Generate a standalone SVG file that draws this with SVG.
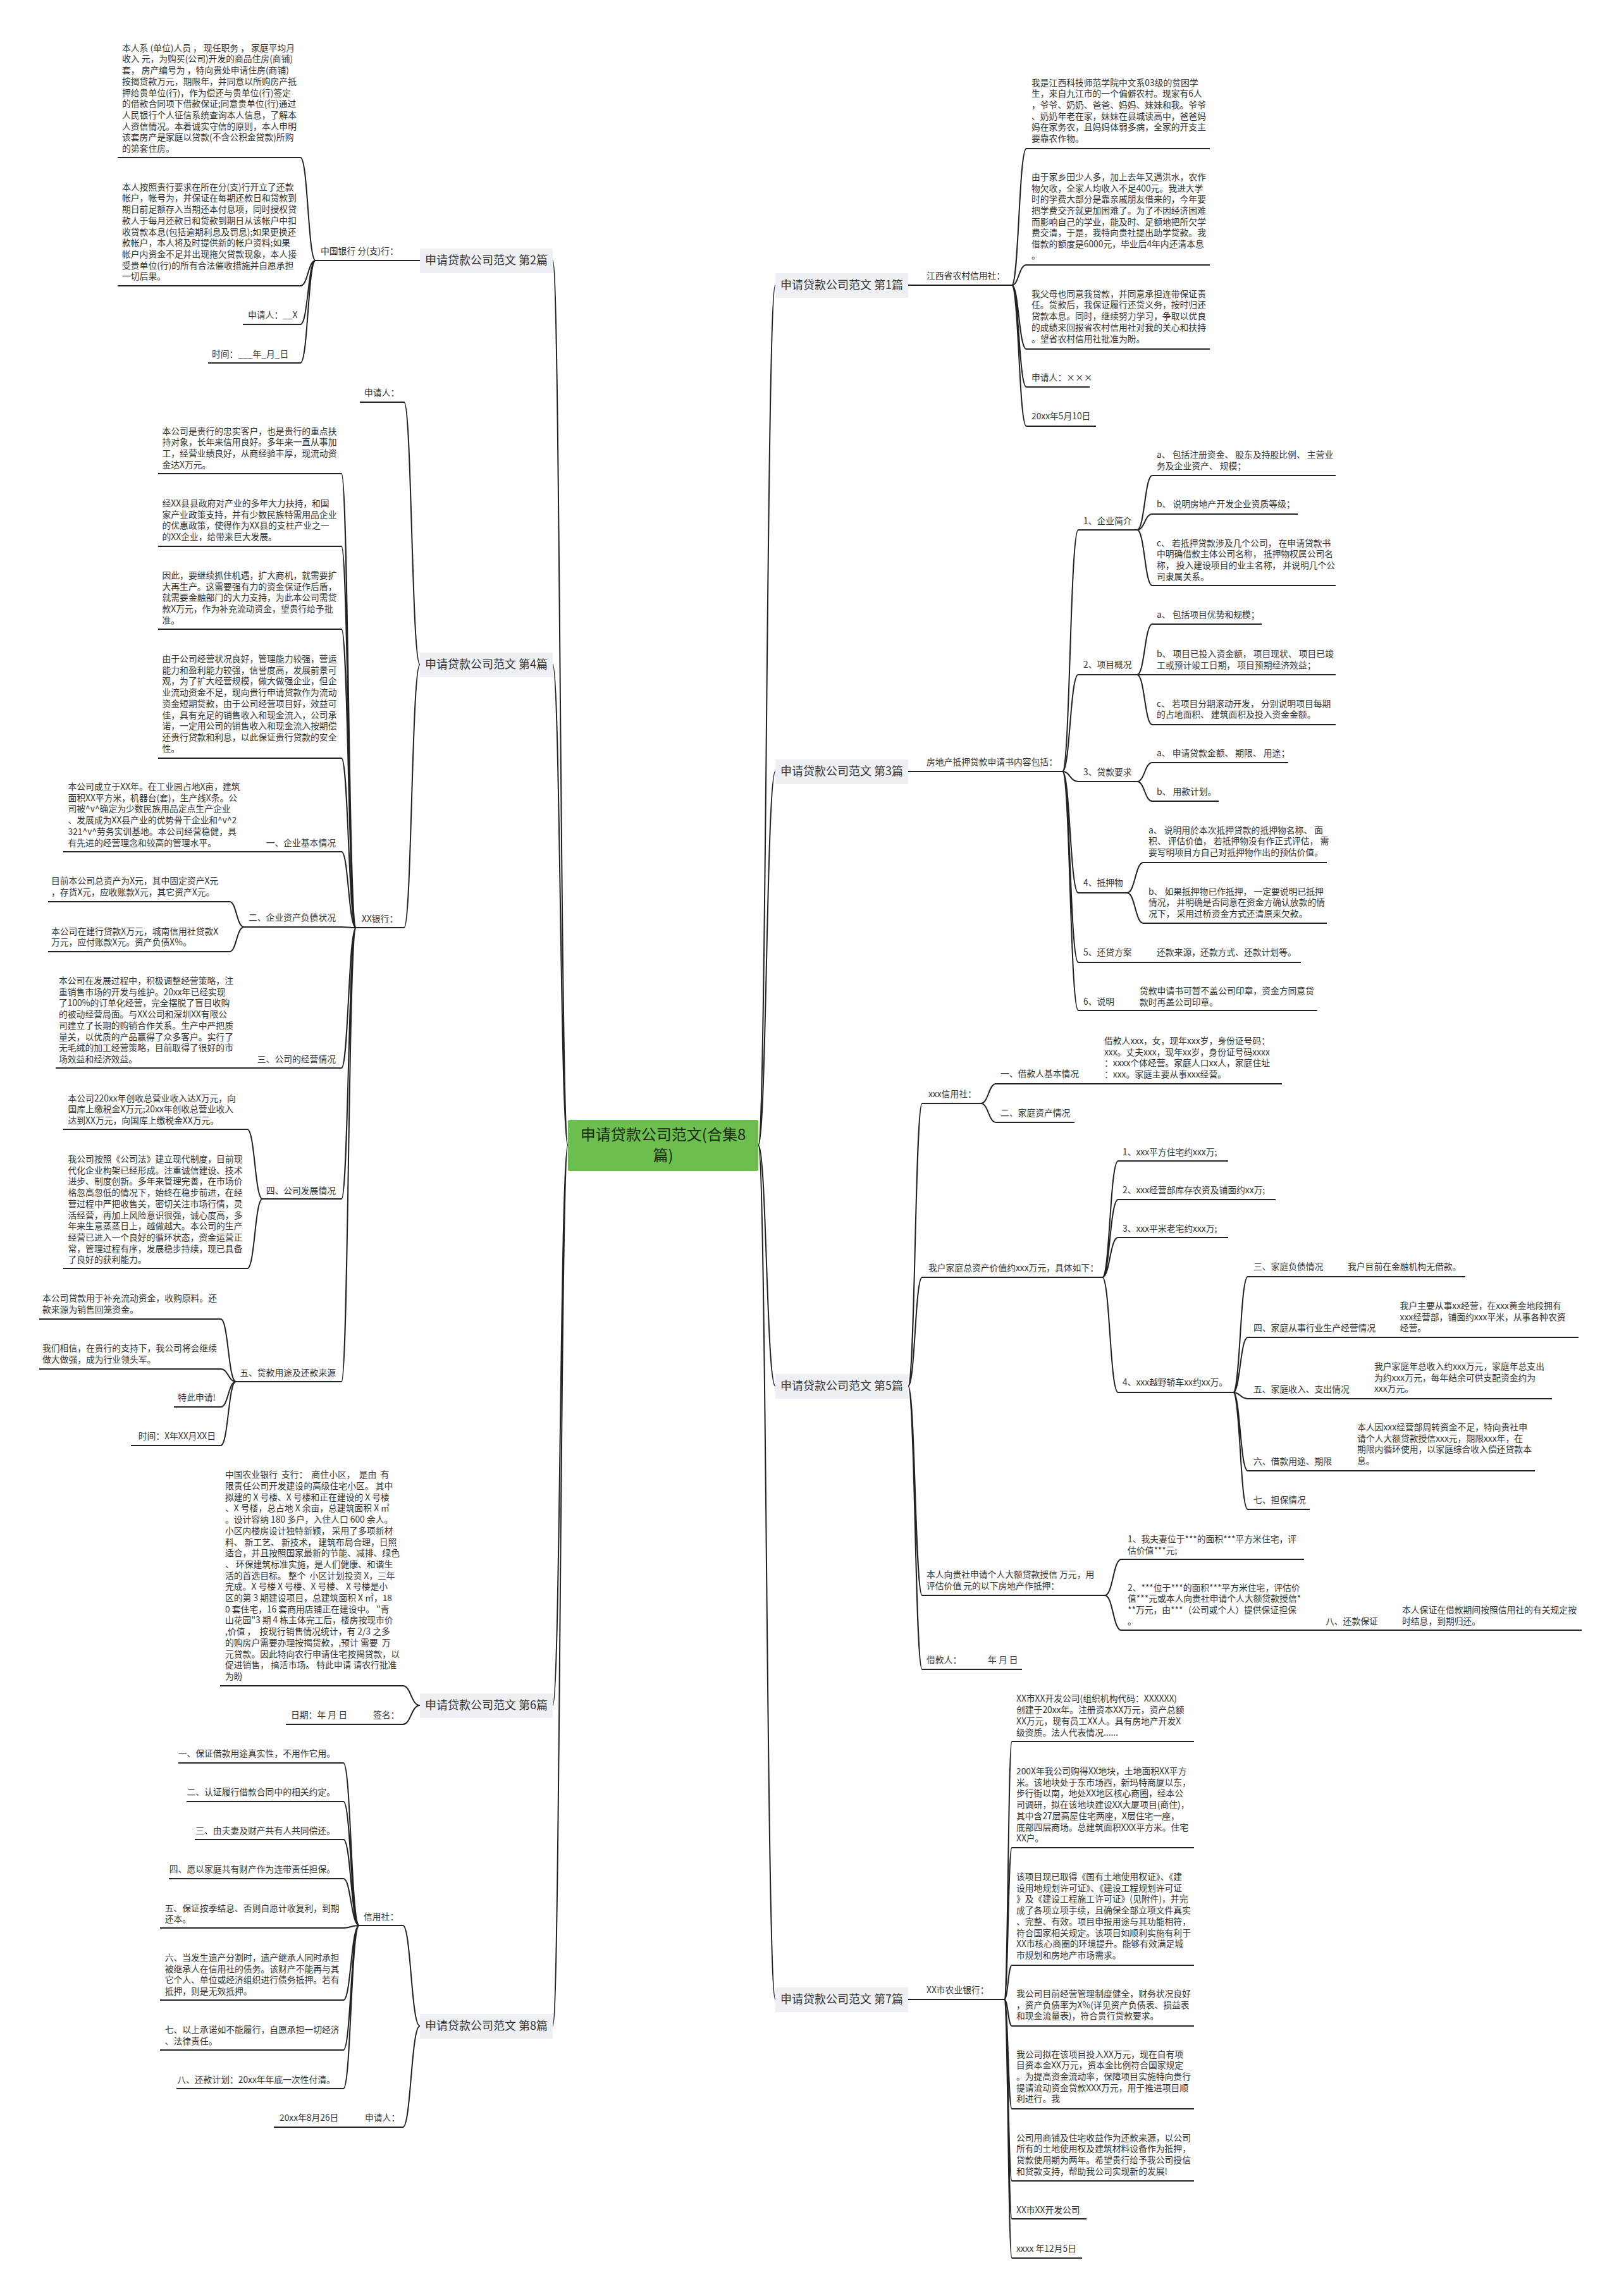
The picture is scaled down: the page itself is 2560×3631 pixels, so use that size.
<svg xmlns="http://www.w3.org/2000/svg" width="2560" height="3631" viewBox="0 0 2560 3631">
<style>
.t{font-family:"Noto Sans CJK SC","Noto Sans",sans-serif;font-size:13.8px;fill:#333;white-space:pre}
.e{text-anchor:end}
.u{stroke:#222;stroke-width:2;fill:none}
.c{stroke:#222;stroke-width:2;fill:none}
.bx{fill:#eef0f3}
.bt{font-family:"Noto Sans CJK SC","Noto Sans",sans-serif;font-size:18px;fill:#333;text-anchor:middle}
.ct{font-family:"Noto Sans CJK SC","Noto Sans",sans-serif;font-size:24px;fill:#1b2a10;text-anchor:middle}
</style>
<rect width="2560" height="3631" fill="#fff"/>
<g id="connectors">
<path class="c" d="M898 1811C886 1811 886 412 874 412M898 1811C886 1811 886 1051 874 1051M898 1811C886 1811 886 2697 874 2697M898 1811C886 1811 886 3204 874 3204"/>
<path class="c" d="M1199 1811C1212 1811 1212 451 1226 451M1199 1811C1212 1811 1212 1220 1226 1220M1199 1811C1212 1811 1212 2192 1226 2192M1199 1811C1212 1811 1212 3162 1226 3162"/>
<path class="c" d="M499 412C487 412 487 249 475 249M499 412C487 412 487 452 475 452M499 412C487 412 487 513 475 513M499 412C487 412 487 574 475 574"/>
<path class="c" d="M664 1051C651 1051 651 636 639 636M664 1051C651 1051 651 1467 639 1467"/>
<path class="c" d="M563 1467C551 1467 551 749 540 749M563 1467C551 1467 551 864 540 864M563 1467C551 1467 551 995 540 995M563 1467C551 1467 551 1199 540 1199M563 1467C551 1467 551 1347 540 1347M563 1467C551 1467 551 1466 540 1466M563 1467C551 1467 551 1689 540 1689M563 1467C551 1467 551 1896 540 1896M563 1467C551 1467 551 2185 540 2185"/>
<path class="c" d="M386 1466C374 1466 374 1426 363 1426M386 1466C374 1466 374 1505 363 1505"/>
<path class="c" d="M415 1896C403 1896 403 1786 391 1786M415 1896C403 1896 403 2006 391 2006"/>
<path class="c" d="M373 2185C361 2185 361 2086 349 2086M373 2185C361 2185 361 2165 349 2165M373 2185C361 2185 361 2225 349 2225M373 2185C361 2185 361 2286 349 2286"/>
<path class="c" d="M664 2697C650 2697 650 2666 637 2666M664 2697C650 2697 650 2727 637 2727"/>
<path class="c" d="M664 3204C650 3204 650 3045 637 3045M664 3204C650 3204 650 3364 637 3364"/>
<path class="c" d="M568 3045C555 3045 555 2788 543 2788M568 3045C555 3045 555 2849 543 2849M568 3045C555 3045 555 2909 543 2909M568 3045C555 3045 555 2971 543 2971M568 3045C555 3045 555 3049 543 3049M568 3045C555 3045 555 3163 543 3163M568 3045C555 3045 555 3242 543 3242M568 3045C555 3045 555 3303 543 3303"/>
<path class="c" d="M1600 451C1611 451 1611 235 1623 235M1600 451C1611 451 1611 419 1623 419M1600 451C1611 451 1611 552 1623 552M1600 451C1611 451 1611 612 1623 612M1600 451C1611 451 1611 674 1623 674"/>
<path class="c" d="M1680 1220C1692 1220 1692 838 1705 838M1680 1220C1692 1220 1692 1067 1705 1067M1680 1220C1692 1220 1692 1236 1705 1236M1680 1220C1692 1220 1692 1412 1705 1412M1680 1220C1692 1220 1692 1522 1705 1522M1680 1220C1692 1220 1692 1598 1705 1598"/>
<path class="c" d="M1798 838C1810 838 1810 752 1822 752M1798 838C1810 838 1810 813 1822 813M1798 838C1810 838 1810 926 1822 926"/>
<path class="c" d="M1798 1067C1810 1067 1810 987 1822 987M1798 1067L1822 1067M1798 1067C1810 1067 1810 1146 1822 1146"/>
<path class="c" d="M1798 1236C1810 1236 1810 1206 1822 1206M1798 1236C1810 1236 1810 1267 1822 1267"/>
<path class="c" d="M1782 1412C1795 1412 1795 1364 1808 1364M1782 1412C1795 1412 1795 1460 1808 1460"/>
<path class="c" d="M1436 2192C1447 2192 1447 1745 1458 1745M1436 2192C1447 2192 1447 2020 1458 2020M1436 2192C1447 2192 1447 2523 1458 2523M1436 2192C1447 2192 1447 2640 1458 2640"/>
<path class="c" d="M1551 1745C1563 1745 1563 1714 1575 1714M1551 1745C1563 1745 1563 1775 1575 1775"/>
<path class="c" d="M1743 2020C1755 2020 1755 1836 1768 1836M1743 2020C1755 2020 1755 1897 1768 1897M1743 2020C1755 2020 1755 1957 1768 1957M1743 2020C1755 2020 1755 2202 1768 2202"/>
<path class="c" d="M1950 2202C1961 2202 1961 2019 1973 2019M1950 2202C1961 2202 1961 2115 1973 2115M1950 2202C1961 2202 1961 2212 1973 2212M1950 2202C1961 2202 1961 2326 1973 2326M1950 2202C1961 2202 1961 2387 1973 2387"/>
<path class="c" d="M1747 2523C1760 2523 1760 2466 1773 2466M1747 2523C1760 2523 1760 2578 1773 2578"/>
<path class="c" d="M1588 3162C1594 3162 1594 2754 1600 2754M1588 3162C1594 3162 1594 2922 1600 2922M1588 3162C1594 3162 1594 3108 1600 3108M1588 3162C1594 3162 1594 3204 1600 3204M1588 3162C1594 3162 1594 3335 1600 3335M1588 3162C1594 3162 1594 3449 1600 3449M1588 3162C1594 3162 1594 3509 1600 3509M1588 3162C1594 3162 1594 3571 1600 3571"/>
</g>
<g id="center"><rect x="898" y="1771" width="301" height="81" rx="3" fill="#6cbf4f"/><text class="ct" x="1048.5" y="1803">申请贷款公司范文(合集8</text><text class="ct" x="1048.5" y="1836">篇)</text></g>
<g id="p2"><rect class="bx" x="664" y="393" width="210" height="39"/><text class="bt" x="769" y="418">申请贷款公司范文 第2篇</text></g>
<g id="p4"><rect class="bx" x="664" y="1032" width="210" height="39"/><text class="bt" x="769" y="1057">申请贷款公司范文 第4篇</text></g>
<g id="p6"><rect class="bx" x="664" y="2678" width="210" height="39"/><text class="bt" x="769" y="2703">申请贷款公司范文 第6篇</text></g>
<g id="p8"><rect class="bx" x="664" y="3185" width="210" height="39"/><text class="bt" x="769" y="3210">申请贷款公司范文 第8篇</text></g>
<g id="p1"><rect class="bx" x="1226" y="432" width="210" height="39"/><text class="bt" x="1331" y="457">申请贷款公司范文 第1篇</text></g>
<g id="p3"><rect class="bx" x="1226" y="1201" width="210" height="39"/><text class="bt" x="1331" y="1226">申请贷款公司范文 第3篇</text></g>
<g id="p5"><rect class="bx" x="1226" y="2173" width="210" height="39"/><text class="bt" x="1331" y="2198">申请贷款公司范文 第5篇</text></g>
<g id="p7"><rect class="bx" x="1226" y="3143" width="210" height="39"/><text class="bt" x="1331" y="3168">申请贷款公司范文 第7篇</text></g>

<g id="n2-label"><text class="t" x="507" y="402">中国银行 分(支)行：</text><path class="u" d="M499 412H664"/></g>
<g id="n2-b1"><text class="t" x="193" y="80.7">本人系 (单位)人员 ， 现任职务 ， 家庭平均月<tspan x="193" dy="17.7">收入 元，为购买(公司)开发的商品住房(商铺)</tspan><tspan x="193" dy="17.7">套， 房产编号为 ，特向贵处申请住房(商铺)</tspan><tspan x="193" dy="17.7">按揭贷款万元，期限年，并同意以所购房产抵</tspan><tspan x="193" dy="17.7">押给贵单位(行)，作为偿还与贵单位(行)签定</tspan><tspan x="193" dy="17.7">的借款合同项下借款保证;同意贵单位(行)通过</tspan><tspan x="193" dy="17.7">人民银行个人征信系统查询本人信息，了解本</tspan><tspan x="193" dy="17.7">人资信情况。本着诚实守信的原则，本人申明</tspan><tspan x="193" dy="17.7">该套房产是家庭以贷款(不含公积金贷款)所购</tspan><tspan x="193" dy="17.7">的第套住房。</tspan></text><path class="u" d="M186 249H475"/></g>
<g id="n2-b2"><text class="t" x="193" y="300.7">本人按照贵行要求在所在分(支)行开立了还款<tspan x="193" dy="17.7">帐户，帐号为，并保证在每期还款日和贷款到</tspan><tspan x="193" dy="17.7">期日前足额存入当期还本付息项，同时授权贷</tspan><tspan x="193" dy="17.7">款人于每月还款日和贷款到期日从该帐户中扣</tspan><tspan x="193" dy="17.7">收贷款本息(包括逾期利息及罚息);如果更换还</tspan><tspan x="193" dy="17.7">款帐户，本人将及时提供新的帐户资料;如果</tspan><tspan x="193" dy="17.7">帐户内资金不足并出现拖欠贷款现象，本人接</tspan><tspan x="193" dy="17.7">受贵单位(行)的所有合法催收措施并自愿承担</tspan><tspan x="193" dy="17.7">一切后果。</tspan></text><path class="u" d="M186 452H475"/></g>
<g id="n2-sq"><text class="t" x="392" y="503">申请人：__X</text><path class="u" d="M384 513H475"/></g>
<g id="n2-time"><text class="t" x="335" y="565">时间：___年_月_日</text><path class="u" d="M329 574H475"/></g>

<g id="n4-sq"><text class="t" x="576" y="626">申请人：</text><path class="u" d="M569 636H639"/></g>
<g id="n4-bank"><text class="t" x="572" y="1458">XX银行：</text><path class="u" d="M563 1467H639"/></g>
<g id="n4-p1"><text class="t" x="256.5" y="686.5">本公司是贵行的忠实客户，也是贵行的重点扶<tspan x="256.5" dy="17.7">持对象，长年来信用良好。多年来一直从事加</tspan><tspan x="256.5" dy="17.7">工，经营业绩良好，从商经验丰厚，现流动资</tspan><tspan x="256.5" dy="17.7">金达X万元。</tspan></text><path class="u" d="M250 749H540"/></g>
<g id="n4-p2"><text class="t" x="256.5" y="801">经XX县县政府对产业的多年大力扶持，和国<tspan x="256.5" dy="17.7">家产业政策支持，并有少数民族特需用品企业</tspan><tspan x="256.5" dy="17.7">的优惠政策，使得作为XX县的支柱产业之一</tspan><tspan x="256.5" dy="17.7">的XX企业，给带来巨大发展。</tspan></text><path class="u" d="M250 864H540"/></g>
<g id="n4-p3"><text class="t" x="256.5" y="915">因此，要继续抓住机遇，扩大商机，就需要扩<tspan x="256.5" dy="17.7">大再生产。这需要强有力的资金保证作后盾，</tspan><tspan x="256.5" dy="17.7">就需要金融部门的大力支持，为此本公司需贷</tspan><tspan x="256.5" dy="17.7">款X万元，作为补充流动资金，望贵行给予批</tspan><tspan x="256.5" dy="17.7">准。</tspan></text><path class="u" d="M250 995H540"/></g>
<g id="n4-p4"><text class="t" x="256.5" y="1047">由于公司经营状况良好，管理能力较强，营运<tspan x="256.5" dy="17.7">能力和盈利能力较强，信誉度高，发展前景可</tspan><tspan x="256.5" dy="17.7">观，为了扩大经营规模，做大做强企业，但企</tspan><tspan x="256.5" dy="17.7">业流动资金不足，现向贵行申请贷款作为流动</tspan><tspan x="256.5" dy="17.7">资金短期贷款，由于公司经营项目好，效益可</tspan><tspan x="256.5" dy="17.7">佳，具有充足的销售收入和现金流入，公司承</tspan><tspan x="256.5" dy="17.7">诺，一定用公司的销售收入和现金流入按期偿</tspan><tspan x="256.5" dy="17.7">还贵行贷款和利息，以此保证贵行贷款的安全</tspan><tspan x="256.5" dy="17.7">性。</tspan></text><path class="u" d="M250 1199H540"/></g>
<g id="n4-s1"><text class="t e" x="531" y="1338">一、企业基本情况</text><path class="u" d="M415 1347H540"/></g>
<g id="n4-s1a"><text class="t" x="107.5" y="1249">本公司成立于XX年。在工业园占地X亩，建筑<tspan x="107.5" dy="17.7">面积XX平方米，机器台(套)，生产线X条。公</tspan><tspan x="107.5" dy="17.7">司被^v^确定为少数民族用品定点生产企业</tspan><tspan x="107.5" dy="17.7">、发展成为XX县产业的优势骨干企业和^v^2</tspan><tspan x="107.5" dy="17.7">321^v^劳务实训基地。本公司经营稳健，具</tspan><tspan x="107.5" dy="17.7">有先进的经营理念和较高的管理水平。</tspan></text><path class="u" d="M100 1347H415"/></g>
<g id="n4-s2"><text class="t e" x="531" y="1456">二、企业资产负债状况</text><path class="u" d="M386 1466H540"/></g>
<g id="n4-s2a"><text class="t" x="81" y="1398">目前本公司总资产为X元，其中固定资产X元<tspan x="81" dy="17.7">，存货X元，应收账款X元，其它资产X元。</tspan></text><path class="u" d="M76 1426H363"/></g>
<g id="n4-s2b"><text class="t" x="81" y="1477.5">本公司在建行贷款X万元，城南信用社贷款X<tspan x="81" dy="17.7">万元，应付账款X元。资产负债X%。</tspan></text><path class="u" d="M76 1505H363"/></g>
<g id="n4-s3"><text class="t e" x="531" y="1679.6">三、公司的经营情况</text><path class="u" d="M400 1689H540"/></g>
<g id="n4-s3a"><text class="t" x="93" y="1556">本公司在发展过程中，积极调整经营策略，注<tspan x="93" dy="17.7">重销售市场的开发与维护。20xx年已经实现</tspan><tspan x="93" dy="17.7">了100%的订单化经营，完全摆脱了盲目收购</tspan><tspan x="93" dy="17.7">的被动经营局面。与XX公司和深圳XX有限公</tspan><tspan x="93" dy="17.7">司建立了长期的购销合作关系。生产中严把质</tspan><tspan x="93" dy="17.7">量关，以优质的产品赢得了众多客户。实行了</tspan><tspan x="93" dy="17.7">无毛绒的加工经营策略，目前取得了很好的市</tspan><tspan x="93" dy="17.7">场效益和经济效益。</tspan></text><path class="u" d="M88 1689H400"/></g>
<g id="n4-s4"><text class="t e" x="531" y="1887.5">四、公司发展情况</text><path class="u" d="M415 1896H540"/></g>
<g id="n4-s4a"><text class="t" x="107.5" y="1741.5">本公司220xx年创收总营业收入达X万元，向<tspan x="107.5" dy="17.7">国库上缴税金X万元;20xx年创收总营业收入</tspan><tspan x="107.5" dy="17.7">达到XX万元，向国库上缴税金XX万元。</tspan></text><path class="u" d="M100 1786H391"/></g>
<g id="n4-s4b"><text class="t" x="107.5" y="1838">我公司按照《公司法》建立现代制度，目前现<tspan x="107.5" dy="17.7">代化企业构架已经形成。注重诚信建设、技术</tspan><tspan x="107.5" dy="17.7">进步、制度创新。多年来管理完善，在市场价</tspan><tspan x="107.5" dy="17.7">格忽高忽低的情况下，始终在稳步前进，在经</tspan><tspan x="107.5" dy="17.7">营过程中严把收售关，密切关注市场行情，灵</tspan><tspan x="107.5" dy="17.7">活经营，再加上风险意识很强，诚心度高，多</tspan><tspan x="107.5" dy="17.7">年来生意蒸蒸日上，越做越大。本公司的生产</tspan><tspan x="107.5" dy="17.7">经营已进入一个良好的循环状态，资金运营正</tspan><tspan x="107.5" dy="17.7">常，管理过程有序，发展稳步持续，现已具备</tspan><tspan x="107.5" dy="17.7">了良好的获利能力。</tspan></text><path class="u" d="M100 2006H391"/></g>
<g id="n4-s5"><text class="t e" x="531" y="2176">五、贷款用途及还款来源</text><path class="u" d="M373 2185H540"/></g>
<g id="n4-s5a"><text class="t" x="67" y="2058">本公司贷款用于补充流动资金，收购原料。还<tspan x="67" dy="17.7">款来源为销售回笼资金。</tspan></text><path class="u" d="M62 2086H349"/></g>
<g id="n4-s5b"><text class="t" x="67" y="2137">我们相信，在贵行的支持下，我公司将会继续<tspan x="67" dy="17.7">做大做强，成为行业领头军。</tspan></text><path class="u" d="M62 2165H349"/></g>
<g id="n4-s5c"><text class="t e" x="341" y="2215">特此申请!</text><path class="u" d="M275 2225H349"/></g>
<g id="n4-s5d"><text class="t e" x="341" y="2276">时间：X年XX月XX日</text><path class="u" d="M207 2286H349"/></g>

<g id="n6-p"><text class="t" x="356" y="2337.3">中国农业银行  支行：  商住小区，  是由  有<tspan x="356" dy="17.7">限责任公司开发建设的高级住宅小区。 其中</tspan><tspan x="356" dy="17.7">拟建的 X 号楼、X 号楼和正在建设的 X 号楼</tspan><tspan x="356" dy="17.7">、X 号楼，总占地 X 余亩，总建筑面积 X ㎡</tspan><tspan x="356" dy="17.7">。设计容纳 180 多户，入住人口 600 余人。</tspan><tspan x="356" dy="17.7">小区内楼房设计独特新颖， 采用了多项新材</tspan><tspan x="356" dy="17.7">料、 新工艺、 新技术， 建筑布局合理，日照</tspan><tspan x="356" dy="17.7">适合，并且按照国家最新的节能、减排、绿色</tspan><tspan x="356" dy="17.7">、 环保建筑标准实施，是人们健康、和谐生</tspan><tspan x="356" dy="17.7">活的首选目标。 整个  小区计划投资 X，三年</tspan><tspan x="356" dy="17.7">完成。X 号楼 X 号楼、X 号楼、 X 号楼是小</tspan><tspan x="356" dy="17.7">区的第 3 期建设项目，总建筑面积 X ㎡，18</tspan><tspan x="356" dy="17.7">0 套住宅，16 套商用店铺正在建设中。 "青</tspan><tspan x="356" dy="17.7">山花园"3 期 4 栋主体完工后，楼房按现市价</tspan><tspan x="356" dy="17.7">,价值 ，  按现行销售情况统计，有 2/3 之多</tspan><tspan x="356" dy="17.7">的购房户需要办理按揭贷款，,预计 需要  万</tspan><tspan x="356" dy="17.7">元贷款。因此特向农行申请住宅按揭贷款，以</tspan><tspan x="356" dy="17.7">促进销售， 搞活市场。 特此申请 请农行批准</tspan><tspan x="356" dy="17.7">为盼</tspan></text><path class="u" d="M348 2666H637"/></g>
<g id="n6-date"><text class="t" x="460" y="2717">日期：年 月 日<tspan x="590">签名：</tspan></text><path class="u" d="M452 2727H637"/></g>

<g id="n8-xys"><text class="t" x="575" y="3035.6">信用社：</text><path class="u" d="M568 3045H637"/></g>
<g id="n8-sq"><text class="t" x="577" y="3354">申请人：</text><path class="u" d="M570 3364H638"/></g>
<g id="n8-date"><text class="t" x="442" y="3354">20xx年8月26日</text><path class="u" d="M433 3364H570"/></g>
<g id="n8-1"><text class="t e" x="530" y="2777.7">一、保证借款用途真实性，不用作它用。</text><path class="u" d="M282 2788H543"/></g>
<g id="n8-2"><text class="t e" x="530" y="2839">二、认证履行借款合同中的相关约定。</text><path class="u" d="M295 2849H543"/></g>
<g id="n8-3"><text class="t e" x="530" y="2900">三、由夫妻及财产共有人共同偿还。</text><path class="u" d="M308 2909H543"/></g>
<g id="n8-4"><text class="t e" x="530" y="2961">四、愿以家庭共有财产作为连带责任担保。</text><path class="u" d="M267 2971H543"/></g>
<g id="n8-5"><text class="t" x="260.7" y="3022.6">五、保证按季结息、否则自愿计收复利，到期<tspan x="260.7" dy="17.7">还本。</tspan></text><path class="u" d="M253 3049H543"/></g>
<g id="n8-6"><text class="t" x="260.7" y="3101">六、当发生遗产分割时，遗产继承人同时承担<tspan x="260.7" dy="17.7">被继承人在信用社的债务。该财产不能再与其</tspan><tspan x="260.7" dy="17.7">它个人、单位或经济组织进行债务抵押。若有</tspan><tspan x="260.7" dy="17.7">抵押，则是无效抵押。</tspan></text><path class="u" d="M253 3163H543"/></g>
<g id="n8-7"><text class="t" x="260.7" y="3215">七、以上承诺如不能履行，自愿承担一切经济<tspan x="260.7" dy="17.7">、法律责任。</tspan></text><path class="u" d="M253 3242H543"/></g>
<g id="n8-8"><text class="t e" x="530" y="3294">八、还款计划：20xx年年底一次性付清。</text><path class="u" d="M279 3303H543"/></g>

<g id="n1-label"><text class="t" x="1465" y="441">江西省农村信用社：</text><path class="u" d="M1436 451H1600"/></g>
<g id="n1-b1"><text class="t" x="1631" y="135.6">我是江西科技师范学院中文系03级的贫困学<tspan x="1631" dy="17.7">生，来自九江市的一个偏僻农村。现家有6人</tspan><tspan x="1631" dy="17.7">，爷爷、奶奶、爸爸、妈妈、妹妹和我。爷爷</tspan><tspan x="1631" dy="17.7">、奶奶年老在家，妹妹在县城读高中，爸爸妈</tspan><tspan x="1631" dy="17.7">妈在家务农，且妈妈体弱多病，全家的开支主</tspan><tspan x="1631" dy="17.7">要靠农作物。</tspan></text><path class="u" d="M1623 235H1913"/></g>
<g id="n1-b2"><text class="t" x="1631" y="284.9">由于家乡田少人多，加上去年又遇洪水，农作<tspan x="1631" dy="17.7">物欠收，全家人均收入不足400元。我进大学</tspan><tspan x="1631" dy="17.7">时的学费大部分是靠亲戚朋友借来的，今年要</tspan><tspan x="1631" dy="17.7">把学费交齐就更加困难了。为了不因经济困难</tspan><tspan x="1631" dy="17.7">而影响自己的学业，能及时、足额地把所欠学</tspan><tspan x="1631" dy="17.7">费交清，于是，我特向贵社提出助学贷款。我</tspan><tspan x="1631" dy="17.7">借款的额度是6000元，毕业后4年内还清本息</tspan><tspan x="1631" dy="17.7">。</tspan></text><path class="u" d="M1623 419H1913"/></g>
<g id="n1-b3"><text class="t" x="1631" y="469.7">我父母也同意我贷款，并同意承担连带保证责<tspan x="1631" dy="17.7">任。贷款后，我保证履行还贷义务，按时归还</tspan><tspan x="1631" dy="17.7">贷款本息。同时，继续努力学习，争取以优良</tspan><tspan x="1631" dy="17.7">的成绩来回报省农村信用社对我的关心和扶持</tspan><tspan x="1631" dy="17.7">。望省农村信用社批准为盼。</tspan></text><path class="u" d="M1623 552H1913"/></g>
<g id="n1-sq"><text class="t" x="1631" y="601.7">申请人：×××</text><path class="u" d="M1623 612H1723"/></g>
<g id="n1-date"><text class="t" x="1631" y="663">20xx年5月10日</text><path class="u" d="M1623 674H1733"/></g>

<g id="n3-label"><text class="t" x="1465" y="1210">房地产抵押贷款申请书内容包括：</text><path class="u" d="M1436 1220H1680"/></g>
<g id="n3-1"><text class="t" x="1713" y="829">1、企业简介</text><path class="u" d="M1705 838H1798"/></g>
<g id="n3-1a"><text class="t" x="1829" y="724">a、 包括注册资金、 股东及持股比例、 主营业<tspan x="1829" dy="17.7">务及企业资产、 规模；</tspan></text><path class="u" d="M1822 752H2112"/></g>
<g id="n3-1b"><text class="t" x="1829" y="802">b、 说明房地产开发企业资质等级；</text><path class="u" d="M1822 813H2052"/></g>
<g id="n3-1c"><text class="t" x="1829" y="863.6">c、 若抵押贷款涉及几个公司， 在申请贷款书<tspan x="1829" dy="17.7">中明确借款主体公司名称， 抵押物权属公司名</tspan><tspan x="1829" dy="17.7">称， 投入建设项目的业主名称， 并说明几个公</tspan><tspan x="1829" dy="17.7">司隶属关系。</tspan></text><path class="u" d="M1822 926H2112"/></g>
<g id="n3-2"><text class="t" x="1713" y="1056">2、项目概况</text><path class="u" d="M1705 1067H1798"/></g>
<g id="n3-2a"><text class="t" x="1829" y="977">a、 包括项目优势和规模；</text><path class="u" d="M1822 987H1995"/></g>
<g id="n3-2b"><text class="t" x="1829" y="1039">b、 项目已投入资金额， 项目现状、 项目已竣<tspan x="1829" dy="17.7">工或预计竣工日期， 项目预期经济效益；</tspan></text><path class="u" d="M1822 1067H2112"/></g>
<g id="n3-2c"><text class="t" x="1829" y="1117.5">c、 若项目分期滚动开发， 分别说明项目每期<tspan x="1829" dy="17.7">的占地面积、 建筑面积及投入资金金额。</tspan></text><path class="u" d="M1822 1146H2112"/></g>
<g id="n3-3"><text class="t" x="1713" y="1226">3、贷款要求</text><path class="u" d="M1705 1236H1798"/></g>
<g id="n3-3a"><text class="t" x="1829" y="1195.6">a、 申请贷款金额、 期限、 用途；</text><path class="u" d="M1822 1206H2037"/></g>
<g id="n3-3b"><text class="t" x="1829" y="1257">b、 用款计划。</text><path class="u" d="M1822 1267H1927"/></g>
<g id="n3-4"><text class="t" x="1713" y="1401">4、抵押物</text><path class="u" d="M1705 1412H1782"/></g>
<g id="n3-4a"><text class="t" x="1816" y="1317.6">a、 说明用於本次抵押贷款的抵押物名称、 面<tspan x="1816" dy="17.7">积、 评估价值， 若抵押物没有作正式评估， 需</tspan><tspan x="1816" dy="17.7">要写明项目方自己对抵押物作出的预估价值。</tspan></text><path class="u" d="M1808 1364H2098"/></g>
<g id="n3-4b"><text class="t" x="1816" y="1414.5">b、 如果抵押物已作抵押， 一定要说明已抵押<tspan x="1816" dy="17.7">情况， 并明确是否同意在资金方确认放款的情</tspan><tspan x="1816" dy="17.7">况下， 采用过桥资金方式还清原来欠款。</tspan></text><path class="u" d="M1808 1460H2098"/></g>
<g id="n3-5"><text class="t" x="1713" y="1511">5、还贷方案</text><path class="u" d="M1705 1522H1822"/></g>
<g id="n3-5a"><text class="t" x="1829" y="1511">还款来源，还款方式、还款计划等。</text><path class="u" d="M1822 1522H2057"/></g>
<g id="n3-6"><text class="t" x="1713" y="1589">6、说明</text><path class="u" d="M1705 1598H1795"/></g>
<g id="n3-6a"><text class="t" x="1802" y="1572">贷款申请书可暂不盖公司印章，资金方同意贷<tspan x="1802" dy="17.7">款时再盖公司印章。</tspan></text><path class="u" d="M1795 1598H2083"/></g>

<g id="n5-xys"><text class="t" x="1468" y="1735">xxx信用社：</text><path class="u" d="M1458 1745H1551"/></g>
<g id="n5-1"><text class="t" x="1582" y="1703.4">一、借款人基本情况</text><path class="u" d="M1575 1714H1740"/></g>
<g id="n5-1a"><text class="t" x="1746" y="1651">借款人xxx，女，现年xxx岁，身份证号码：<tspan x="1746" dy="17.7">xxx。丈夫xxx，现年xx岁，身份证号码xxxx</tspan><tspan x="1746" dy="17.7">：xxxx个体经营。家庭人口xx人，家庭住址</tspan><tspan x="1746" dy="17.7">：xxx。家庭主要从事xxx经营。</tspan></text><path class="u" d="M1740 1714H2027"/></g>
<g id="n5-2"><text class="t" x="1582" y="1765">二、家庭资产情况</text><path class="u" d="M1575 1775H1699"/></g>
<g id="n5-zc"><text class="t" x="1468" y="2010">我户家庭总资产价值约xxx万元，具体如下：</text><path class="u" d="M1458 2020H1743"/></g>
<g id="n5-zc1"><text class="t" x="1775" y="1826.6">1、xxx平方住宅约xxx万;</text><path class="u" d="M1768 1836H1942"/></g>
<g id="n5-zc2"><text class="t" x="1775" y="1887">2、xxx经营部库存农资及铺面约xx万;</text><path class="u" d="M1768 1897H2017"/></g>
<g id="n5-zc3"><text class="t" x="1775" y="1947.6">3、xxx平米老宅约xxx万;</text><path class="u" d="M1768 1957H1942"/></g>
<g id="n5-zc4"><text class="t" x="1775" y="2191">4、xxx越野轿车xx约xx万。</text><path class="u" d="M1768 2202H1950"/></g>
<g id="n5-3"><text class="t" x="1982" y="2008">三、家庭负债情况</text><path class="u" d="M1973 2019H2120"/></g>
<g id="n5-3a"><text class="t" x="2131" y="2008">我户目前在金融机构无借款。</text><path class="u" d="M2120 2019H2317"/></g>
<g id="n5-4"><text class="t" x="1982" y="2105">四、家庭从事行业生产经营情况</text><path class="u" d="M1973 2115H2205"/></g>
<g id="n5-4a"><text class="t" x="2213.6" y="2070">我户主要从事xx经营，在xxx黄金地段拥有<tspan x="2213.6" dy="17.7">xxx经营部，铺面约xxx平米，从事各种农资</tspan><tspan x="2213.6" dy="17.7">经营。</tspan></text><path class="u" d="M2205 2115H2496"/></g>
<g id="n5-5"><text class="t" x="1982" y="2201.7">五、家庭收入、支出情况</text><path class="u" d="M1973 2212H2165"/></g>
<g id="n5-5a"><text class="t" x="2173" y="2166">我户家庭年总收入约xxx万元，家庭年总支出<tspan x="2173" dy="17.7">为约xxx万元，每年结余可供支配资金约为</tspan><tspan x="2173" dy="17.7">xxx万元。</tspan></text><path class="u" d="M2165 2212H2454"/></g>
<g id="n5-6"><text class="t" x="1982" y="2315.7">六、借款用途、期限</text><path class="u" d="M1973 2326H2138"/></g>
<g id="n5-6a"><text class="t" x="2146" y="2262">本人因xxx经营部周转资金不足，特向贵社申<tspan x="2146" dy="17.7">请个人大额贷款授信xxx元，期限xxx年，在</tspan><tspan x="2146" dy="17.7">期限内循环使用，以家庭综合收入偿还贷款本</tspan><tspan x="2146" dy="17.7">息。</tspan></text><path class="u" d="M2138 2326H2427"/></g>
<g id="n5-7"><text class="t" x="1982" y="2377">七、担保情况</text><path class="u" d="M1973 2387H2071"/></g>
<g id="n5-dy"><text class="t" x="1465" y="2495">本人向贵社申请个人大额贷款授信 万元，用<tspan x="1465" dy="17.7">评估价值 元的以下房地产作抵押：</tspan></text><path class="u" d="M1458 2523H1747"/></g>
<g id="n5-dy1"><text class="t" x="1783" y="2439">1、我夫妻位于***的面积***平方米住宅，评<tspan x="1783" dy="17.7">估价值***元;</tspan></text><path class="u" d="M1773 2466H2062"/></g>
<g id="n5-dy2"><text class="t" x="1783" y="2515.5">2、***位于***的面积***平方米住宅，评估价<tspan x="1783" dy="17.7">值***元或本人向贵社申请个人大额贷款授信*</tspan><tspan x="1783" dy="17.7">**万元，由***（公司或个人）提供保证担保</tspan><tspan x="1783" dy="17.7">。</tspan></text><path class="u" d="M1773 2578H2086"/></g>
<g id="n5-8"><text class="t" x="2096" y="2568.6">八、还款保证</text><path class="u" d="M2086 2578H2210"/></g>
<g id="n5-8a"><text class="t" x="2217" y="2550.9">本人保证在借款期间按照信用社的有关规定按<tspan x="2217" dy="17.7">时结息，到期归还。</tspan></text><path class="u" d="M2210 2578H2501"/></g>
<g id="n5-jkr"><text class="t" x="1465" y="2630">借款人：<tspan x="1562">年 月 日</tspan></text><path class="u" d="M1458 2640H1616"/></g>

<g id="n7-label"><text class="t" x="1465" y="3152">XX市农业银行：</text><path class="u" d="M1436 3162H1588"/></g>
<g id="n7-b1"><text class="t" x="1607" y="2691.4">XX市XX开发公司(组织机构代码：XXXXXX)<tspan x="1607" dy="17.7">创建于20xx年。注册资本XX万元，资产总额</tspan><tspan x="1607" dy="17.7">XX万元，现有员工XX人。具有房地产开发X</tspan><tspan x="1607" dy="17.7">级资质。法人代表情况......</tspan></text><path class="u" d="M1600 2754H1888"/></g>
<g id="n7-b2"><text class="t" x="1607" y="2806">200X年我公司购得XX地块，土地面积XX平方<tspan x="1607" dy="17.7">米。该地块处于东市场西，新玛特商厦以东，</tspan><tspan x="1607" dy="17.7">步行街以南，地处XX地区核心商圈，经本公</tspan><tspan x="1607" dy="17.7">司调研，拟在该地块建设XX大厦项目(商住)，</tspan><tspan x="1607" dy="17.7">其中含27层高屋住宅两座，X层住宅一座，</tspan><tspan x="1607" dy="17.7">底部四层商场。总建筑面积XXX平方米。住宅</tspan><tspan x="1607" dy="17.7">XX户。</tspan></text><path class="u" d="M1600 2922H1888"/></g>
<g id="n7-b3"><text class="t" x="1607" y="2973">该项目现已取得《国有土地使用权证》、《建<tspan x="1607" dy="17.7">设用地规划许可证》、《建设工程规划许可证</tspan><tspan x="1607" dy="17.7">》及《建设工程施工许可证》(见附件)，并完</tspan><tspan x="1607" dy="17.7">成了各项立项手续，且确保全部立项文件真实</tspan><tspan x="1607" dy="17.7">、完整、有效。项目申报用途与其功能相符，</tspan><tspan x="1607" dy="17.7">符合国家相关规定。该项目如顺利实施有利于</tspan><tspan x="1607" dy="17.7">XX市核心商圈的环境提升。能够有效满足城</tspan><tspan x="1607" dy="17.7">市规划和房地产市场需求。</tspan></text><path class="u" d="M1600 3108H1888"/></g>
<g id="n7-b4"><text class="t" x="1607" y="3158">我公司目前经营管理制度健全，财务状况良好<tspan x="1607" dy="17.7">，资产负债率为X%(详见资产负债表、损益表</tspan><tspan x="1607" dy="17.7">和现金流量表)，符合贵行贷款要求。</tspan></text><path class="u" d="M1600 3204H1888"/></g>
<g id="n7-b5"><text class="t" x="1607" y="3253.6">我公司拟在该项目投入XX万元，现在自有项<tspan x="1607" dy="17.7">目资本金XX万元，资本金比例符合国家规定</tspan><tspan x="1607" dy="17.7">。为提高资金流动率，保障项目实施特向贵行</tspan><tspan x="1607" dy="17.7">提请流动资金贷款XXX万元，用于推进项目顺</tspan><tspan x="1607" dy="17.7">利进行。我</tspan></text><path class="u" d="M1600 3335H1888"/></g>
<g id="n7-b6"><text class="t" x="1607" y="3385.7">公司用商铺及住宅收益作为还款来源，以公司<tspan x="1607" dy="17.7">所有的土地使用权及建筑材料设备作为抵押，</tspan><tspan x="1607" dy="17.7">贷款使用期为两年。希望贵行给予我公司授信</tspan><tspan x="1607" dy="17.7">和贷款支持，帮助我公司实现新的发展!</tspan></text><path class="u" d="M1600 3449H1888"/></g>
<g id="n7-co"><text class="t" x="1607" y="3499.5">XX市XX开发公司</text><path class="u" d="M1600 3509H1718"/></g>
<g id="n7-date"><text class="t" x="1607" y="3561">xxxx 年12月5日</text><path class="u" d="M1600 3571H1711"/></g>
</svg>
